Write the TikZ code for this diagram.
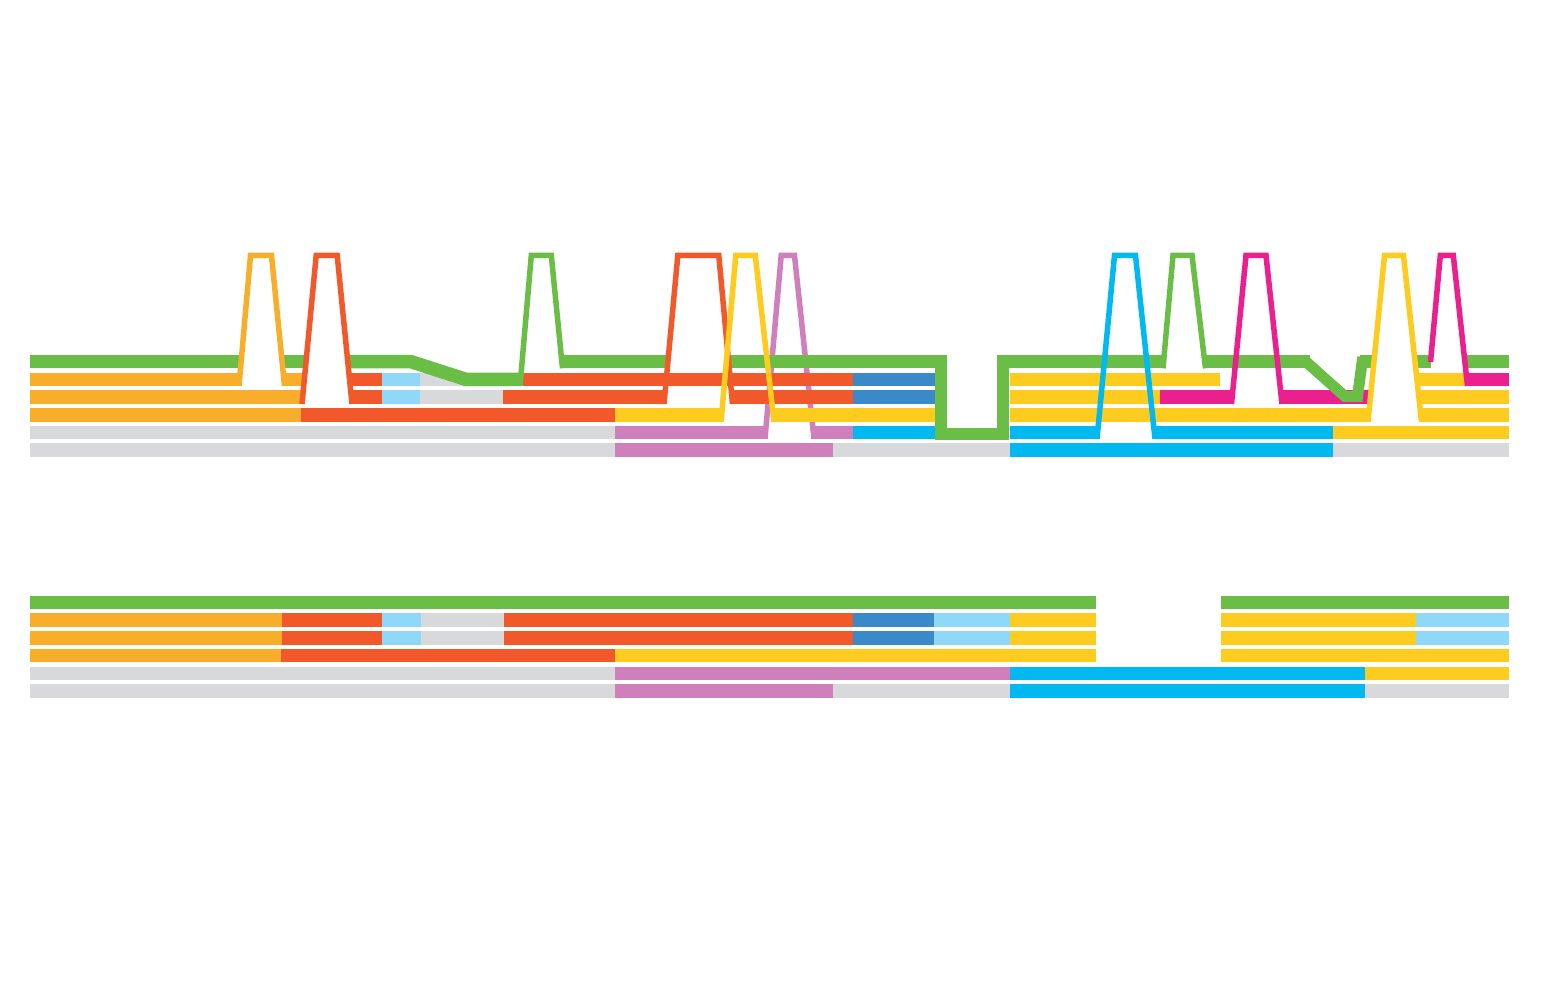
\documentclass[tikz,border=0pt]{standalone}
\definecolor{cgreen}{HTML}{6BBE45}
\definecolor{corange}{HTML}{F9AE2B}
\definecolor{cred}{HTML}{F1592A}
\definecolor{clblue}{HTML}{8FD8F8}
\definecolor{cgray}{HTML}{D8D9DA}
\definecolor{cblue}{HTML}{3A89C9}
\definecolor{cyellow}{HTML}{FECC1F}
\definecolor{cpurple}{HTML}{D07FBD}
\definecolor{ccyan}{HTML}{00B9F1}
\definecolor{cmag}{HTML}{EC1F8E}
\newcommand\seg[4]{\fill[#1] (#3,{#2-6.75}) rectangle (#4,{#2+6.75});}
\begin{document}
\begin{tikzpicture}[x=1pt,y=-1pt,
  peak/.style={line width=5.5pt, line join=miter, miter limit=10},
  track/.style={line width=13.5pt, line join=miter},
  dip/.style={line width=11pt, line join=miter}]
\useasboundingbox (0,0) rectangle (1543,984);
\fill[white] (0,0) rectangle (1543,984);

% ---------- TOP SECTION ----------
% purple peak (behind the bars)
\draw[peak, cpurple] (765,438.7) -- (781.2,255.5) -- (794.5,255.5) -- (814,438.7);

% row 1 (green)
\seg{cgreen}{361.7}{30}{241.1}
\seg{cgreen}{361.7}{282.1}{306}
\seg{cgreen}{361.7}{561.8}{667.9}
\seg{cgreen}{361.7}{728.6}{946.7}
\seg{cgreen}{361.7}{997.3}{1163.6}
\seg{cgreen}{361.7}{1204.7}{1310}
\seg{cgreen}{361.7}{1359.5}{1374}
\seg{cgreen}{361.7}{1415}{1430.5}
\seg{cgreen}{361.7}{1464.9}{1509}

% row 2
\seg{corange}{379.4}{30}{239.6}
\seg{corange}{379.4}{283.8}{304.4}
\seg{cred}{379.4}{349.5}{382}
\seg{clblue}{379.4}{382}{420}
\seg{cgray}{379.4}{420}{470}
\seg{cred}{379.4}{520.6}{853.3}
\seg{cblue}{379.4}{853.3}{935}
\seg{cyellow}{379.4}{1010}{1220}
\seg{cyellow}{379.4}{1416.9}{1466.8}
\seg{cmag}{379.4}{1466.8}{1509}

% row 3
\seg{corange}{397.1}{30}{302.7}
\seg{cred}{397.1}{351.3}{382}
\seg{clblue}{397.1}{382}{420}
\seg{cgray}{397.1}{420}{503.3}
\seg{cred}{397.1}{503.3}{664.6}
\seg{cred}{397.1}{731.9}{853.3}
\seg{cblue}{397.1}{853.3}{935}
\seg{cyellow}{397.1}{1010}{1160}
\seg{cmag}{397.1}{1160}{1232.2}
\seg{cmag}{397.1}{1281.3}{1370}
\seg{cyellow}{397.1}{1418.8}{1509}

% row 4
\seg{corange}{414.8}{30}{301}
\seg{cred}{414.8}{301}{615}
\seg{cyellow}{414.8}{615}{721.6}
\seg{cyellow}{414.8}{773.2}{935}
\seg{cyellow}{414.8}{1010}{1368.7}
\seg{cyellow}{414.8}{1420.8}{1509}

% row 5
\seg{cgray}{432.5}{30}{615}
\seg{cpurple}{432.5}{615}{765.5}
\seg{cpurple}{432.5}{813.3}{853.3}
\seg{ccyan}{432.5}{853.3}{935}
\seg{ccyan}{432.5}{1010}{1097.6}
\seg{ccyan}{432.5}{1154.3}{1333.3}
\seg{cyellow}{432.5}{1333.3}{1509}

% row 6
\seg{cgray}{450.2}{30}{615}
\seg{cpurple}{450.2}{615}{833.3}
\seg{cgray}{450.2}{833.3}{1010}
\seg{ccyan}{450.2}{1010}{1333.3}
\seg{cgray}{450.2}{1333.3}{1509}

% green line detours, drawn over the rows they cross
\draw[track, cgreen] (347.8,361.7) -- (411,361.7) -- (466,379.4) -- (520.6,379.4);
\draw[cgreen, line width=12pt, line join=miter] (940.7,355) -- (940.7,433.5) -- (1003.3,433.5) -- (1003.3,355);
\draw[dip, cgreen] (1306,361.7) -- (1345,396.5) -- (1357.5,396.5) -- (1362.8,357);

% peaks in front
\draw[peak, corange] (239,386) -- (250.5,255.5) -- (271.5,255.5) -- (284.5,386);
\draw[peak, cred] (302,404) -- (316.2,255.5) -- (337.2,255.5) -- (352,404);
\draw[peak, cgreen] (520,386) -- (531.3,255.5) -- (551.3,255.5) -- (562.5,368.3);
\draw[peak, cred] (664,404) -- (677.8,255.5) -- (718.8,255.5) -- (732.5,404);
\draw[peak, cyellow] (721,421.7) -- (735.8,255.5) -- (755.3,255.5) -- (774,421.7);
\draw[peak, ccyan] (1097,438.7) -- (1114.5,255.5) -- (1135.5,255.5) -- (1155,438.7);
\draw[peak, cgreen] (1163,368.3) -- (1173,255.5) -- (1192,255.5) -- (1205.5,368.3);
\draw[peak, cmag] (1231.5,404) -- (1246,255.5) -- (1266,255.5) -- (1282,404);
\draw[peak, cmag] (1430.5,362) -- (1440.3,255.5) -- (1453.3,255.5) -- (1467.5,386);
\draw[peak, cyellow] (1368,421.7) -- (1384.5,255.5) -- (1403.5,255.5) -- (1421.5,421.7);

% ---------- BOTTOM SECTION ----------
% row 1
\seg{cgreen}{602.5}{30}{1096.2}
\seg{cgreen}{602.5}{1220.8}{1509}
% rows 2 and 3
\foreach \yy in {620.2,637.9}{
  \seg{corange}{\yy}{30}{281.8}
  \seg{cred}{\yy}{281.8}{381.5}
  \seg{clblue}{\yy}{381.5}{420.5}
  \seg{cgray}{\yy}{420.5}{504.2}
  \seg{cred}{\yy}{504.2}{853.4}
  \seg{cblue}{\yy}{853.4}{933.8}
  \seg{clblue}{\yy}{933.8}{1010}
  \seg{cyellow}{\yy}{1010}{1096.2}
  \seg{cyellow}{\yy}{1220.8}{1416}
  \seg{clblue}{\yy}{1416}{1509}
}
% row 4
\seg{corange}{655.6}{30}{280.5}
\seg{cred}{655.6}{280.5}{615.3}
\seg{cyellow}{655.6}{615.3}{1096.2}
\seg{cyellow}{655.6}{1220.8}{1509}
% row 5
\seg{cgray}{673.3}{30}{615.3}
\seg{cpurple}{673.3}{615.3}{1010}
\seg{ccyan}{673.3}{1010}{1364.8}
\seg{cyellow}{673.3}{1364.8}{1509}
% row 6
\seg{cgray}{691}{30}{615.3}
\seg{cpurple}{691}{615.3}{833}
\seg{cgray}{691}{833}{1010}
\seg{ccyan}{691}{1010}{1364.8}
\seg{cgray}{691}{1364.8}{1509}
\end{tikzpicture}
\end{document}
